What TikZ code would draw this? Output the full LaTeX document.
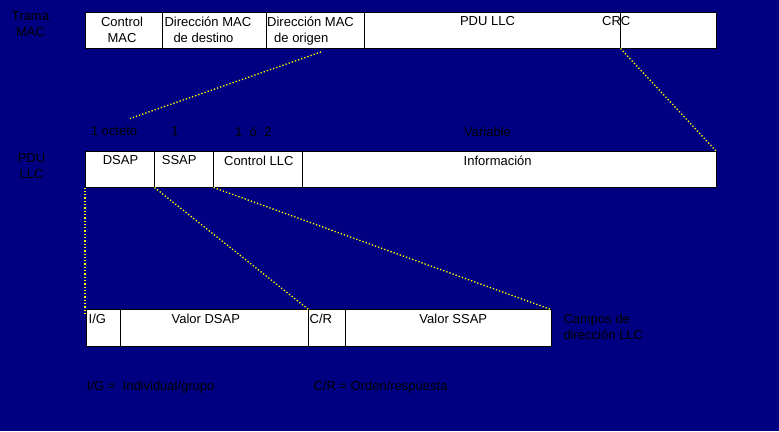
\documentclass[tikz,border=0pt]{standalone}
\usepackage{fontspec}
\setmainfont{Liberation Sans}
\usepackage{tikz}
\usetikzlibrary{positioning}
\definecolor{navyback}{HTML}{000080}
\definecolor{dotyellow}{HTML}{FFFF00}

\begin{document}
\begin{tikzpicture}[x=1pt, y=-1pt,
  fld/.style={draw=black, line width=1pt, fill=white, inner sep=0pt, outer sep=0pt, anchor=north west},
  lbl/.style={inner sep=0pt, anchor=north, align=center, font=\fontsize{13}{16}\selectfont, text=black},
  lbll/.style={lbl, anchor=north west, align=left},
  dots/.style={dotyellow, line width=1.3pt, dash pattern=on 1.3pt off 2pt}
]
  \fill[navyback] (0,0) rectangle (779,431);
  \useasboundingbox (0,0) rectangle (779,431);

  % trama MAC
  \foreach \nm/\xa/\xb in {ctlmac/85/162.5, dmacd/162.5/266.5, dmaco/266.5/364.5, pdu/364.5/620.5, crc/620.5/716.5}
    {\node[fld, minimum width={(\xb-\xa)*1pt}, minimum height=36pt] (\nm) at (\xa,12.5) {};}
  % PDU LLC
  \foreach \nm/\xa/\xb in {dsap/85/154.5, ssap/154.5/213.5, ctlllc/213.5/302.5, info/302.5/716.5}
    {\node[fld, minimum width={(\xb-\xa)*1pt}, minimum height=36pt] (\nm) at (\xa,151.5) {};}
  % campos de direccion
  \foreach \nm/\xa/\xb in {ig/86.5/120.5, vdsap/120.5/308.5, cr/308.5/345.5, vssap/345.5/551}
    {\node[fld, minimum width={(\xb-\xa)*1pt}, minimum height=36.5pt] (\nm) at (\xa,309.5) {};}

  \node[lbl] (ltrama) at (30.5,11.5) {Trama\\MAC};
  \node[lbl] (tctlmac) at (122,17) {Control\\MAC};
  \node[lbll] (tdmacd) at (164.3,17) {Dirección MAC\\\hspace*{9pt}de destino};
  \node[lbll] (tdmaco) at (267,17) {Dirección MAC\\\hspace*{7pt}de origen};
  \node[lbl] (tpdu) at (487.5,16.5) {PDU LLC};
  \node[lbl] (tcrc) at (616.3,16.5) {CRC};

  \node[lbl] (toct) at (114,126.5) {1 octeto};
  \node[lbl] (tuno) at (175,126.5) {1};
  \node[lbl] (tunodos) at (253.3,126.5) {1\ \ ó\ \ 2};
  \node[lbl] (tvar) at (487.5,126.5) {Variable};
  \node[lbl] (lpdu) at (31.5,153.5) {PDU\\LLC};
  \node[lbl] (tdsap) at (120.5,155.5) {DSAP};
  \node[lbl] (tssap) at (179.2,155.5) {SSAP};
  \node[lbl] (tctlllc) at (258.8,155.5) {Control LLC};
  \node[lbl] (tinfo) at (497.7,155.5) {Información};

  \node[lbll] (tig) at (88.5,314) {I/G};
  \node[lbl] (tvdsap) at (205.8,314) {Valor DSAP};
  \node[lbll] (tcr) at (309.5,314) {C/R};
  \node[lbl] (tvssap) at (453.3,314) {Valor SSAP};
  \node[lbll] (lcampos) at (563.3,314) {Campos de\\dirección LLC};
  \node[lbll] (nota1) at (86.7,380.5) {I/G =\ \ Individual/grupo};
  \node[lbll] (nota2) at (313.3,380.5) {C/R = Orden/respuesta};

  \coordinate (macfrom) at (321,52);
  \coordinate (llcto) at (130,118.5);
  \coordinate (igleft) at (85,315);
  \draw[dots] (macfrom) -- (llcto);
  \draw[dots] (crc.south west) -- (info.north east);
  \draw[dots] (dsap.south west) -- (igleft);
  \draw[dots] (ssap.south west) -- (cr.north west);
  \draw[dots] (ctlllc.south west) -- (vssap.north east);
\end{tikzpicture}
\end{document}
